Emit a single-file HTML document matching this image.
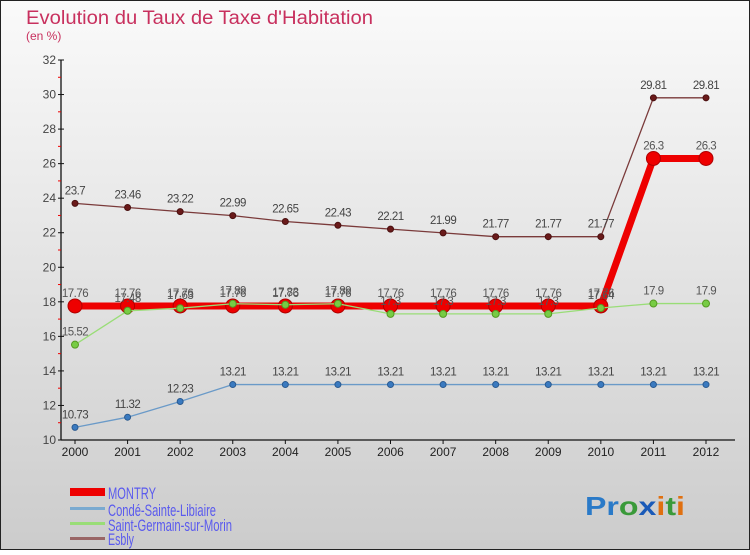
<!DOCTYPE html>
<html><head><meta charset="utf-8"><style>
html,body{margin:0;padding:0}
body{width:750px;height:550px;overflow:hidden;font-family:"Liberation Sans",sans-serif}
</style></head><body>
<svg id="chart" width="750" height="550" xmlns="http://www.w3.org/2000/svg">
<defs>
<linearGradient id="bg" x1="0" y1="0" x2="0" y2="1">
<stop offset="0" stop-color="#fafafa"/><stop offset="1" stop-color="#cccccc"/>
</linearGradient>
</defs>
<rect x="0.5" y="0.5" width="749" height="549" fill="url(#bg)" stroke="#222" stroke-width="1"/>
<text x="26" y="24" font-size="19" fill="#c8305e" textLength="347" lengthAdjust="spacingAndGlyphs">Evolution du Taux de Taxe d'Habitation</text>
<text x="26" y="40" font-size="12" fill="#c8305e">(en %)</text>
<g id="axes"></g>
<g id="series"></g>
<g id="legend">
<rect x="70" y="488" width="35" height="8" fill="#e00"/>
<text x="108" y="499" font-size="17" fill="#5a5aee" textLength="48" lengthAdjust="spacingAndGlyphs">MONTRY</text>
<rect x="70" y="507" width="35" height="3" fill="#7aaad0"/>
<text x="108" y="516" font-size="17" fill="#5a5aee" textLength="108" lengthAdjust="spacingAndGlyphs">Condé-Sainte-Libiaire</text>
<rect x="70" y="522" width="35" height="3" fill="#99dd77"/>
<text x="108" y="531" font-size="17" fill="#5a5aee" textLength="124" lengthAdjust="spacingAndGlyphs">Saint-Germain-sur-Morin</text>
<rect x="70" y="537" width="35" height="3" fill="#996666"/>
<text x="108" y="545" font-size="17" fill="#5a5aee" textLength="26" lengthAdjust="spacingAndGlyphs">Esbly</text>
</g>
<g font-size="26" font-weight="bold">
<text x="585" y="515" textLength="100" lengthAdjust="spacingAndGlyphs"><tspan fill="#2a7ac8">Pr</tspan><tspan fill="#3a9a3a">o</tspan><tspan fill="#1a5ab8">x</tspan><tspan fill="#e07010">i</tspan><tspan fill="#3a9a3a">t</tspan><tspan fill="#e07010">i</tspan></text>
</g>
</svg>
<script>
const years = [2000,2001,2002,2003,2004,2005,2006,2007,2008,2009,2010,2011,2012];
const montry = [17.76,17.76,17.76,17.76,17.76,17.76,17.76,17.76,17.76,17.76,17.76,26.3,26.3];
const conde = [10.73,11.32,12.23,13.21,13.21,13.21,13.21,13.21,13.21,13.21,13.21,13.21,13.21];
const saintGermain = [15.52,17.48,17.63,17.89,17.83,17.89,17.3,17.3,17.3,17.3,17.64,17.9,17.9];
const esbly = [23.7,23.46,23.22,22.99,22.65,22.43,22.21,21.99,21.77,21.77,21.77,29.81,29.81];
const yTicks = [10,12,14,16,18,20,22,24,26,28,30,32];

const NS="http://www.w3.org/2000/svg";
const X0=75, X1=706, Y0=440, Y1=60, YMIN=10, YMAX=32;
const xs = i => X0 + i*(X1-X0)/(years.length-1);
const ys = v => Y0 - (v-YMIN)*(Y0-Y1)/(YMAX-YMIN);
function mk(tag, attrs, parent){const e=document.createElementNS(NS,tag);for(const k in attrs)e.setAttribute(k,attrs[k]);parent.appendChild(e);return e;}
const axes=document.getElementById('axes'), ser=document.getElementById('series');

let yl=mk('line',{x1:61,y1:Y1,x2:61,y2:Y0,stroke:'#111','stroke-width':1.3},axes);


let xl=mk('line',{x1:61,y1:Y0,x2:735,y2:Y0,stroke:'#111','stroke-width':1.3},axes);


yTicks.forEach((t,i)=>{
  const y=ys(t);
  mk('line',{x1:58,y1:y,x2:64,y2:y,stroke:'#111'},axes);
  const tx=mk('text',{x:56,y:y+4,'font-size':12,'text-anchor':'end',fill:'#444'},axes);
  tx.textContent=t;
  
  
  if(i<yTicks.length-1){const ym=ys(t+1);mk('line',{x1:58,y1:ym,x2:61,y2:ym,stroke:'#e00'},axes);}
});
years.forEach((yr,i)=>{
  const x=xs(i);
  mk('line',{x1:x,y1:Y0,x2:x,y2:Y0+4,stroke:'#111'},axes);
  const tx=mk('text',{x:x,y:Y0+16,'font-size':12,'text-anchor':'middle',fill:'#222'},axes);
  tx.textContent=yr;
  
  
});

function draw(name, vals, color, w, r, dot, stroke, labelCol){
  const g=mk('g',{},ser);
  
  
  const pl=mk('polyline',{points:vals.map((v,i)=>xs(i)+','+ys(v)).join(' '),fill:'none',stroke:color,'stroke-width':w,'stroke-linejoin':'round'},g);
  
  
  vals.forEach((v,i)=>{
    const c=mk('circle',{cx:xs(i),cy:ys(v),r:r,fill:dot,stroke:stroke,'stroke-width':1},g);
    
    
    const t=mk('text',{x:xs(i),y:ys(v)-9,'font-size':11.5,'text-anchor':'middle',fill:labelCol,'letter-spacing':'-0.5'},g);
    t.textContent=v;
    
    
  });
}
draw('esbly',esbly,'#7a3a3a',1.3,3,'#6a1a1a','#4a1010','#444');
draw('conde',conde,'#6a9ac8',1.3,3,'#3a7ac0','#2a5a90','#444');
draw('montry',montry,'#ee0000',7,7,'#ee0000','#b00000','#555');
draw('saint-germain',saintGermain,'#99dd77',1.3,3.5,'#77cc44','#559922','#555');
</script>
</body></html>
